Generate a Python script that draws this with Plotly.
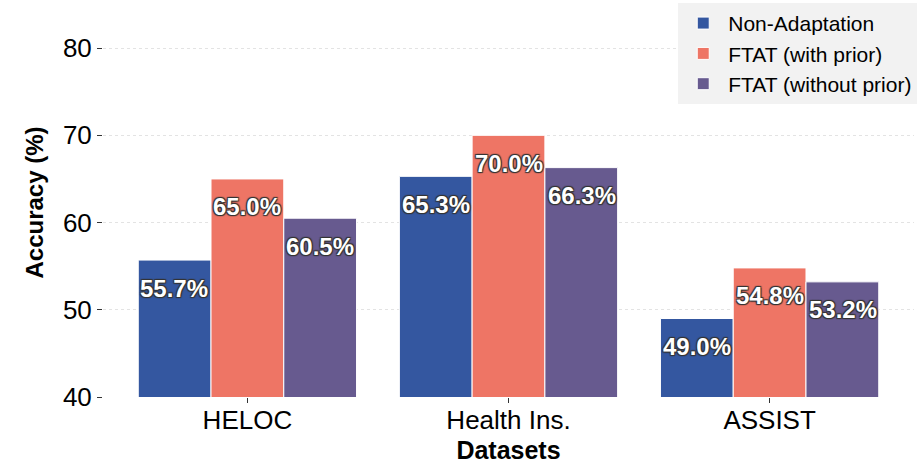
import plotly.graph_objects as go

categories = ["HELOC", "Health Ins.", "ASSIST"]
series_names = ["Non-Adaptation", "FTAT (with prior)", "FTAT (without prior)"]
non_adaptation = [55.7, 65.3, 49.0]
ftat_with_prior = [65.0, 70.0, 54.8]
ftat_without_prior = [60.5, 66.3, 53.2]
y_ticks = [40, 50, 60, 70, 80]

colors = ["#3457A0", "#EE7565", "#675A8F"]
series_values = [non_adaptation, ftat_with_prior, ftat_without_prior]

fig = go.Figure()
for name, vals, col in zip(series_names, series_values, colors):
    fig.add_trace(go.Bar(
        x=categories, y=vals, name=name,
        marker=dict(color=col, line=dict(color="white", width=1)),
    ))

# value labels inside bars near the top
shadow = "1px 1px 1px #333, -1px -1px 1px #333, 1px -1px 1px #333, -1px 1px 1px #333"
bar_px = 73
for si, vals in enumerate(series_values):
    for ci, v in enumerate(vals):
        fig.add_annotation(
            x=categories[ci], y=v, xref="x", yref="y",
            text=f"{v:.1f}%", showarrow=False,
            xshift=(si - 1) * bar_px, yshift=-28,
            font=dict(family="Liberation Sans, Arial", size=24, color="white", weight="bold", shadow=shadow),
        )

fig.update_layout(
    width=920, height=467,
    margin=dict(l=103, r=3, t=5, b=70),
    barmode="group", bargap=0.164, bargroupgap=0,
    plot_bgcolor="white", paper_bgcolor="white",
    font=dict(family="Liberation Sans, Arial", color="black"),
    showlegend=True,
    legend=dict(
        x=1.004, y=1.013, xanchor="right", yanchor="top",
        bgcolor="#F2F2F2", font=dict(size=21),
        itemwidth=40, tracegroupgap=0,
    ),
    xaxis=dict(
        range=[-0.553, 2.553],
        tickfont=dict(size=26), ticks="outside", ticklen=5, tickcolor="#333",
        ticklabelstandoff=-5,
        title=dict(text="<b>Datasets</b>", font=dict(size=25), standoff=7),
        showline=False, showgrid=False,
    ),
    yaxis=dict(
        range=[40, 84.6], tickvals=y_ticks,
        tickfont=dict(size=26), ticks="outside", ticklen=5, tickcolor="#333",
        showgrid=True, gridcolor="#E3E3E3", griddash="dot", gridwidth=1,
        zeroline=False, showline=False,
        title=dict(text="<b>Accuracy (%)</b>", font=dict(size=24), standoff=12),
    ),
)

fig.write_html("out.html")
